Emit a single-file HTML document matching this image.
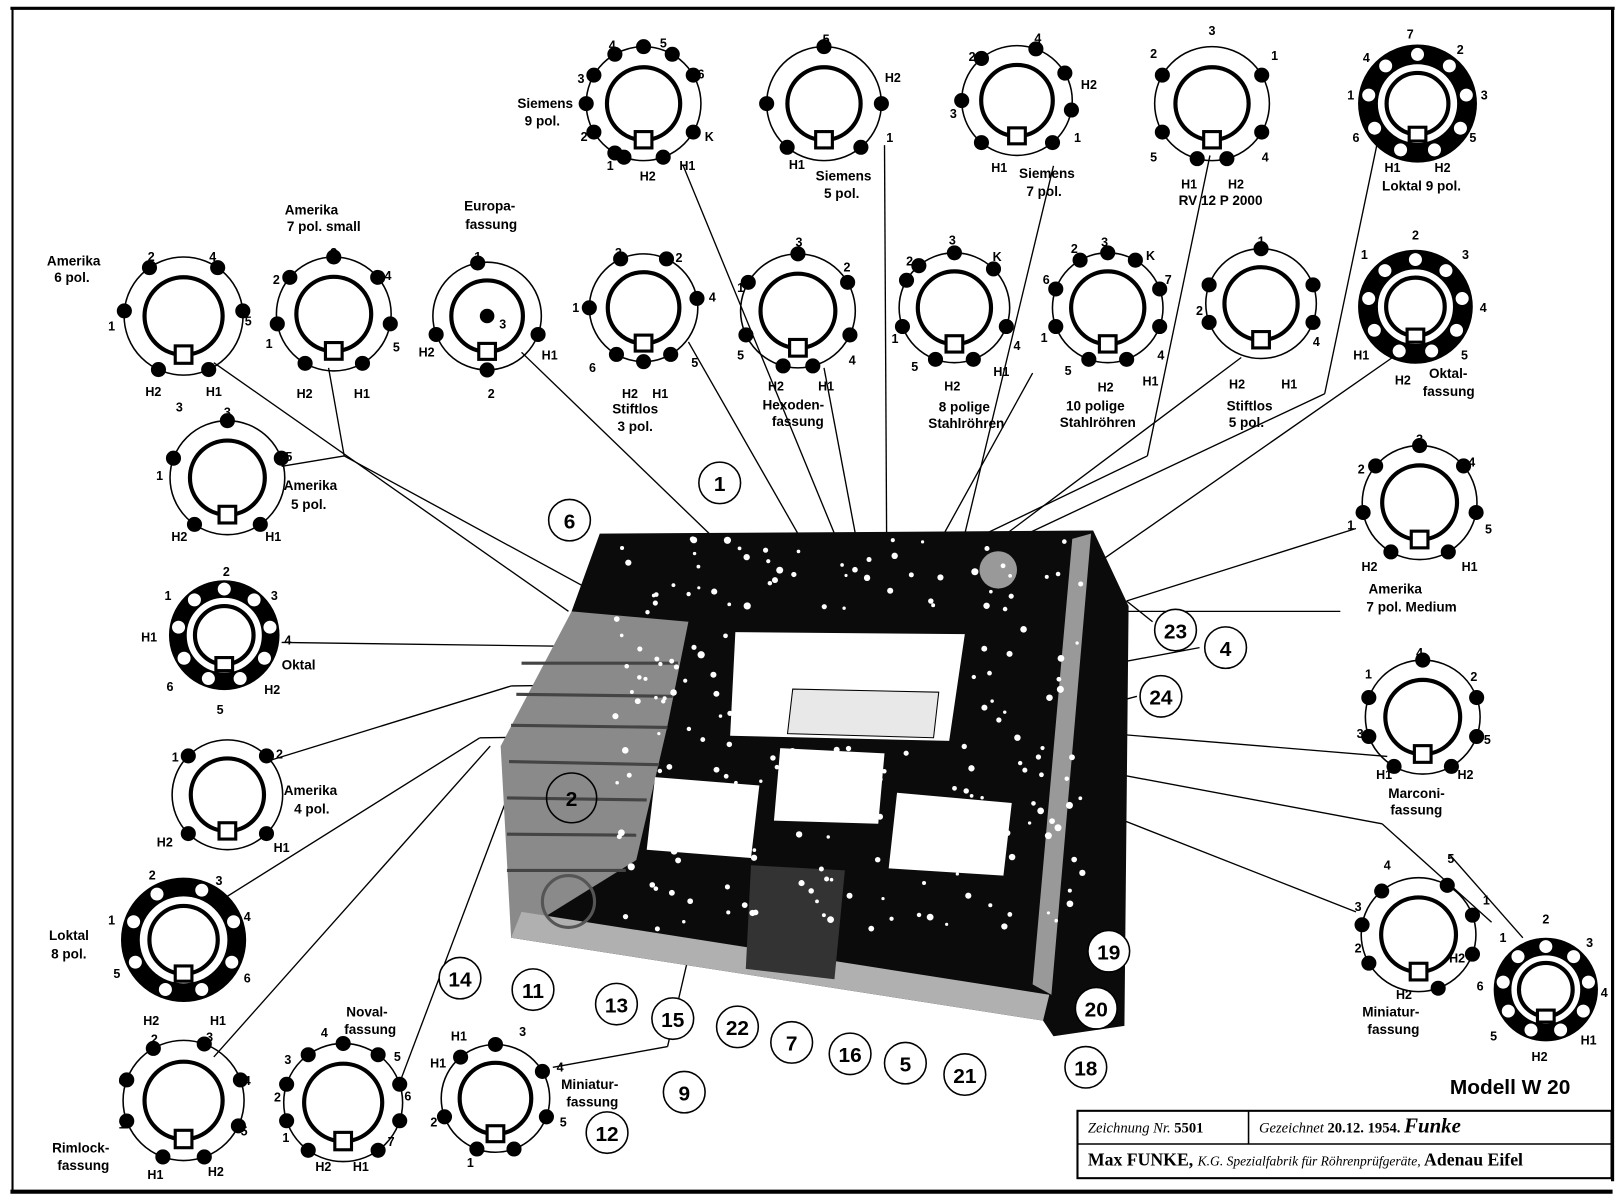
<!DOCTYPE html>
<html><head><meta charset="utf-8"><style>
html,body{margin:0;padding:0;background:#fff;}
svg{display:block;}
text{font-family:"Liberation Sans",sans-serif;font-weight:bold;font-size:13px;fill:#000;}
.n{font-size:20px;font-family:"Liberation Sans",sans-serif;font-weight:bold;text-anchor:middle;}
.p text{font-size:12px;text-anchor:middle;}
</style></head><body>
<svg id="s" width="1623" height="1202" viewBox="0 0 1556 1160" preserveAspectRatio="none" xmlns="http://www.w3.org/2000/svg">
<rect width="1556" height="1160" fill="#fff"/>
<line x1="10" y1="8" x2="1548" y2="8" stroke="#000" stroke-width="3"/>
<line x1="12" y1="8" x2="12" y2="1150" stroke="#000" stroke-width="2"/>
<line x1="1546" y1="8" x2="1546" y2="1140" stroke="#000" stroke-width="3"/>
<line x1="10" y1="1150" x2="1546" y2="1150" stroke="#000" stroke-width="4"/>

<g stroke="#000" stroke-width="1.3" fill="none">
<line x1="205" y1="350" x2="545" y2="590"/>
<line x1="330" y1="440" x2="315" y2="355"/><line x1="330" y1="440" x2="270" y2="450"/><line x1="330" y1="440" x2="640" y2="610"/>
<line x1="500" y1="340" x2="680" y2="515"/>
<line x1="660" y1="330" x2="765" y2="515"/>
<line x1="655" y1="160" x2="800" y2="515"/>
<line x1="790" y1="355" x2="820" y2="515"/>
<line x1="848" y1="140" x2="850" y2="515"/>
<line x1="990" y1="360" x2="905" y2="515"/>
<line x1="1010" y1="160" x2="925" y2="515"/>
<line x1="1160" y1="150" x2="1100" y2="440"/><line x1="1100" y1="440" x2="945" y2="515"/>
<line x1="1190" y1="345" x2="965" y2="515"/>
<line x1="1320" y1="140" x2="1270" y2="380"/><line x1="1270" y1="380" x2="985" y2="515"/>
<line x1="1335" y1="345" x2="1050" y2="545"/>
<line x1="1300" y1="510" x2="1080" y2="580"/>
<line x1="270" y1="620" x2="640" y2="625"/>
<line x1="255" y1="735" x2="490" y2="662"/><line x1="490" y1="662" x2="640" y2="660"/>
<line x1="210" y1="870" x2="460" y2="712"/><line x1="460" y1="712" x2="620" y2="710"/>
<line x1="205" y1="1020" x2="470" y2="720"/>
<line x1="385" y1="1040" x2="520" y2="680"/>
<line x1="530" y1="1030" x2="640" y2="1010"/><line x1="640" y1="1010" x2="670" y2="880"/>
<line x1="1330" y1="730" x2="1065" y2="708"/>
<line x1="1430" y1="890" x2="1325" y2="795"/><line x1="1325" y1="795" x2="1060" y2="745"/>
<line x1="1460" y1="905" x2="1390" y2="825"/>
<line x1="1300" y1="880" x2="1060" y2="785"/>
<line x1="1285" y1="590" x2="1080" y2="590"/>
<line x1="1150" y1="625" x2="1070" y2="640"/>
<line x1="1090" y1="672" x2="1060" y2="680"/>
<line x1="1105" y1="600" x2="1080" y2="580"/>
</g>

<polygon points="575,515 1048,512 1082,585 1078,990 1010,1000 1000,985 490,905 505,850 548,590" fill="#0b0b0b"/>
<polygon points="480,720 548,590 660,600 640,700 610,830 490,905" fill="#8a8a8a"/>
<g stroke="#444" stroke-width="3">
<line x1="500" y1="640" x2="650" y2="640"/><line x1="495" y1="670" x2="645" y2="672"/><line x1="490" y1="700" x2="640" y2="702"/><line x1="488" y1="735" x2="632" y2="738"/><line x1="486" y1="770" x2="620" y2="772"/><line x1="486" y1="805" x2="610" y2="806"/><line x1="486" y1="840" x2="600" y2="840"/>
</g>
<polygon points="490,905 1000,985 1006,960 500,880" fill="#b0b0b0"/>
<polygon points="1028,520 1046,515 1008,960 990,950" fill="#999"/>
<polygon points="705,610 925,612 910,715 700,710" fill="#fff"/>
<polygon points="760,665 900,668 895,712 755,708" fill="#e8e8e8" stroke="#000"/>
<polygon points="628,750 728,758 720,828 620,820" fill="#fff"/>
<polygon points="748,722 848,727 842,795 742,792" fill="#fff"/>
<polygon points="860,765 970,775 962,845 852,838" fill="#fff"/>
<polygon points="720,835 810,840 800,945 715,935" fill="#333"/>
<circle cx="957" cy="550" r="18" fill="#999"/>
<circle cx="545" cy="870" r="25" fill="none" stroke="#555" stroke-width="3"/>
<g id="speck"></g>

<g id="nums" fill="#fff" stroke="#000" stroke-width="1.5"></g>
<g>
<text class="n" x="690" y="474">1</text><text class="n" x="546" y="510">6</text><text class="n" x="1127" y="616">23</text><text class="n" x="1175" y="633">4</text><text class="n" x="1113" y="680">24</text><text class="n" x="1063" y="926">19</text><text class="n" x="1051" y="981">20</text><text class="n" x="1041" y="1038">18</text><text class="n" x="925" y="1045">21</text><text class="n" x="868" y="1034">5</text><text class="n" x="815" y="1025">16</text><text class="n" x="759" y="1014">7</text><text class="n" x="707" y="999">22</text><text class="n" x="645" y="991">15</text><text class="n" x="591" y="977">13</text><text class="n" x="511" y="963">11</text><text class="n" x="441" y="952">14</text><text class="n" x="656" y="1062">9</text><text class="n" x="582" y="1101">12</text><text class="n" x="548" y="778">2</text>
</g>

<g id="sock"></g>

<!-- pin labels -->
<g class="p">
<text x="145" y="252">2</text><text x="204" y="252">4</text><text x="238" y="314">5</text><text x="107" y="319">1</text><text x="147" y="382">H2</text><text x="205" y="382">H1</text>
<text x="320" y="248">3</text><text x="265" y="274">2</text><text x="372" y="270">4</text><text x="258" y="336">1</text><text x="380" y="339">5</text><text x="292" y="384">H2</text><text x="347" y="384">H1</text>
<text x="458" y="252">1</text><text x="409" y="344">H2</text><text x="527" y="347">H1</text><text x="471" y="384">2</text><text x="482" y="317">3</text>
<text x="587" y="48">4</text><text x="636" y="46">5</text><text x="672" y="76">6</text><text x="557" y="80">3</text><text x="560" y="136">2</text><text x="680" y="136">K</text><text x="585" y="164">1</text><text x="621" y="174">H2</text><text x="659" y="164">H1</text>
<text x="792" y="42">5</text><text x="856" y="79">H2</text><text x="733" y="104">2</text><text x="853" y="137">1</text><text x="764" y="163">H1</text>
<text x="932" y="59">2</text><text x="995" y="41">4</text><text x="1044" y="86">H2</text><text x="914" y="114">3</text><text x="1033" y="137">1</text><text x="958" y="166">H1</text>
<text x="1162" y="34">3</text><text x="1106" y="56">2</text><text x="1222" y="58">1</text><text x="1106" y="156">5</text><text x="1213" y="156">4</text><text x="1140" y="182">H1</text><text x="1185" y="182">H2</text>
<text x="1310" y="60">4</text><text x="1352" y="37">7</text><text x="1400" y="52">2</text><text x="1295" y="96">1</text><text x="1423" y="96">3</text><text x="1300" y="137">6</text><text x="1412" y="137">5</text><text x="1335" y="166">H1</text><text x="1383" y="166">H2</text>
<text x="593" y="248">3</text><text x="651" y="253">2</text><text x="552" y="301">1</text><text x="683" y="291">4</text><text x="568" y="359">6</text><text x="666" y="354">5</text><text x="604" y="384">H2</text><text x="633" y="384">H1</text>
<text x="766" y="238">3</text><text x="812" y="262">2</text><text x="710" y="282">1</text><text x="710" y="347">5</text><text x="817" y="352">4</text><text x="744" y="377">H2</text><text x="792" y="377">H1</text>
<text x="913" y="236">3</text><text x="872" y="256">2</text><text x="956" y="252">K</text><text x="858" y="331">1</text><text x="975" y="338">4</text><text x="877" y="358">5</text><text x="960" y="363">H1</text><text x="913" y="377">H2</text>
<text x="1030" y="244">2</text><text x="1059" y="238">3</text><text x="1103" y="251">K</text><text x="1003" y="274">6</text><text x="1120" y="274">7</text><text x="1001" y="330">1</text><text x="1113" y="347">4</text><text x="1024" y="362">5</text><text x="1060" y="378">H2</text><text x="1103" y="372">H1</text>
<text x="1209" y="237">1</text><text x="1150" y="304">2</text><text x="1262" y="334">4</text><text x="1186" y="375">H2</text><text x="1236" y="375">H1</text>
<text x="1357" y="231">2</text><text x="1308" y="250">1</text><text x="1405" y="250">3</text><text x="1422" y="301">4</text><text x="1404" y="347">5</text><text x="1305" y="347">H1</text><text x="1345" y="371">H2</text>
<text x="218" y="402">3</text><text x="172" y="397">3</text><text x="153" y="463">1</text><text x="277" y="445">5</text><text x="172" y="522">H2</text><text x="262" y="522">H1</text>
<text x="217" y="556">2</text><text x="161" y="579">1</text><text x="263" y="579">3</text><text x="143" y="619">H1</text><text x="276" y="622">4</text><text x="163" y="667">6</text><text x="261" y="670">H2</text><text x="211" y="689">5</text>
<text x="168" y="735">1</text><text x="268" y="732">2</text><text x="158" y="817">H2</text><text x="270" y="822">H1</text>
<text x="146" y="849">2</text><text x="210" y="854">3</text><text x="107" y="892">1</text><text x="237" y="889">4</text><text x="112" y="944">5</text><text x="237" y="948">6</text><text x="145" y="989">H2</text><text x="209" y="989">H1</text>
<text x="148" y="1007">2</text><text x="201" y="1005">3</text><text x="117" y="1047">6</text><text x="237" y="1047">4</text><text x="117" y="1089">1</text><text x="234" y="1096">5</text><text x="149" y="1138">H1</text><text x="207" y="1135">H2</text>
<text x="311" y="1001">4</text><text x="381" y="1024">5</text><text x="276" y="1027">3</text><text x="266" y="1063">2</text><text x="391" y="1062">6</text><text x="274" y="1102">1</text><text x="375" y="1106">7</text><text x="310" y="1130">H2</text><text x="346" y="1130">H1</text>
<text x="440" y="1004">H1</text><text x="501" y="1000">3</text><text x="420" y="1030">H1</text><text x="537" y="1034">4</text><text x="416" y="1087">2</text><text x="540" y="1087">5</text><text x="451" y="1126">1</text>
<text x="1361" y="428">3</text><text x="1305" y="457">2</text><text x="1411" y="450">4</text><text x="1295" y="511">1</text><text x="1427" y="515">5</text><text x="1313" y="551">H2</text><text x="1409" y="551">H1</text>
<text x="1361" y="634">4</text><text x="1312" y="655">1</text><text x="1413" y="657">2</text><text x="1304" y="712">3</text><text x="1426" y="718">5</text><text x="1327" y="752">H1</text><text x="1405" y="752">H2</text>
<text x="1330" y="839">4</text><text x="1391" y="833">5</text><text x="1302" y="879">3</text><text x="1425" y="873">1</text><text x="1302" y="919">2</text><text x="1346" y="964">H2</text><text x="1397" y="929">H2</text>
<text x="1482" y="891">2</text><text x="1441" y="909">1</text><text x="1524" y="914">3</text><text x="1419" y="956">6</text><text x="1538" y="962">4</text><text x="1432" y="1004">5</text><text x="1523" y="1008">H1</text><text x="1476" y="1024">H2</text>
</g>

<g>
<text x="45" y="256">Amerika</text><text x="52" y="272">6 pol.</text>
<text x="273" y="207">Amerika</text><text x="275" y="223">7 pol. small</text>
<text x="445" y="203">Europa-</text><text x="446" y="221">fassung</text>
<text x="496" y="104">Siemens</text><text x="503" y="121">9 pol.</text>
<text x="782" y="174">Siemens</text><text x="790" y="191">5 pol.</text>
<text x="977" y="172">Siemens</text><text x="984" y="189">7 pol.</text>
<text x="1130" y="198">RV 12 P 2000</text>
<text x="1325" y="184">Loktal 9 pol.</text>
<text x="587" y="399">Stiftlos</text><text x="592" y="416">3 pol.</text>
<text x="731" y="395">Hexoden-</text><text x="740" y="411">fassung</text>
<text x="900" y="397">8 polige</text><text x="890" y="413">Stahlröhren</text>
<text x="1022" y="396">10 polige</text><text x="1016" y="412">Stahlröhren</text>
<text x="1176" y="396">Stiftlos</text><text x="1178" y="412">5 pol.</text>
<text x="1370" y="365">Oktal-</text><text x="1364" y="382">fassung</text>
<text x="272" y="473">Amerika</text><text x="279" y="491">5 pol.</text>
<text x="270" y="646">Oktal</text>
<text x="272" y="767">Amerika</text><text x="282" y="785">4 pol.</text>
<text x="47" y="907">Loktal</text><text x="49" y="925">8 pol.</text>
<text x="50" y="1112">Rimlock-</text><text x="55" y="1129">fassung</text>
<text x="332" y="981">Noval-</text><text x="330" y="998">fassung</text>
<text x="538" y="1051">Miniatur-</text><text x="543" y="1068">fassung</text>
<text x="1312" y="573">Amerika</text><text x="1310" y="590">7 pol. Medium</text>
<text x="1331" y="770">Marconi-</text><text x="1333" y="786">fassung</text>
<text x="1306" y="981">Miniatur-</text><text x="1311" y="998">fassung</text>
<text x="1390" y="1056" style="font-size:20px">Modell W 20</text>
</g>

<rect x="1033" y="1072" width="512" height="65" fill="#fff" stroke="#000" stroke-width="2"/>
<line x1="1033" y1="1104" x2="1545" y2="1104" stroke="#000" stroke-width="1.5"/>
<line x1="1197" y1="1072" x2="1197" y2="1104" stroke="#000" stroke-width="1.5"/>
<text x="1043" y="1093" style="font-weight:normal;font-style:italic;font-size:14px;font-family:'Liberation Serif',serif">Zeichnung Nr. <tspan style="font-weight:bold;font-style:normal">5501</tspan></text>
<text x="1207" y="1093" style="font-weight:normal;font-style:italic;font-size:14px;font-family:'Liberation Serif',serif">Gezeichnet <tspan style="font-weight:bold;font-style:normal">20.12. 1954.</tspan> <tspan style="font-size:20px;font-weight:bold">Funke</tspan></text>
<text x="1043" y="1125" style="font-size:17px;font-family:'Liberation Serif',serif">Max FUNKE, <tspan style="font-weight:normal;font-style:italic;font-size:13px">K.G. Spezialfabrik für Röhrenprüfgeräte,</tspan> Adenau Eifel</text>
</svg>
<script>
var NS="http://www.w3.org/2000/svg";
function el(p,t,a){var e=document.createElementNS(NS,t);for(var k in a)e.setAttribute(k,a[k]);p.appendChild(e);return e;}
var S=document.getElementById('sock');
function sock(cx,cy,R,r,angs,black,center){
  if(black){el(S,'circle',{cx:cx,cy:cy,r:(R+r)/2,fill:'none',stroke:'#000','stroke-width':R-r});}
  else el(S,'circle',{cx:cx,cy:cy,r:R,fill:'none',stroke:'#000','stroke-width':1.5});
  el(S,'circle',{cx:cx,cy:cy,r:r*0.78,fill:'none',stroke:'#000','stroke-width':4});
  el(S,'rect',{x:cx-8,y:cy+r*0.6,width:16,height:r*0.35,fill:'#fff',stroke:'#000','stroke-width':3});
  angs.forEach(function(a){var t=a*Math.PI/180;var pr=black?(R+r)/2:R;
    el(S,'circle',{cx:cx+pr*Math.sin(t),cy:cy-pr*Math.cos(t),r:black?7:6.5,fill:black?'#fff':'#000',stroke:'#000','stroke-width':1.5});});
  if(center)el(S,'circle',{cx:cx,cy:cy,r:7,fill:'#000'});
}
sock(176,305,57,48,[-35,35,85,155,-155,-85]);
sock(320,303,55,46,[0,50,100,150,-150,-100,-50]);
sock(467,305,52,44,[-10,110,180,-110],false,true);
sock(617,297,52,44,[-25,25,80,150,180,-150,-90]);
sock(765,300,55,46,[0,60,115,165,-165,-115,-60]);
sock(915,297,53,45,[-40,0,45,110,160,-160,-110,-60]);
sock(1062,297,53,45,[-30,0,30,70,110,160,-160,-110,-70]);
sock(1209,293,53,45,[0,110,-110,-70,70]);
sock(1357,296,55,36,[-80,-40,0,40,80,120,160,-160,-120],true);
sock(617,100,55,45,[-150,-120,-90,-60,-30,0,30,60,120,160,-160]);
sock(790,100,55,45,[0,-90,-140,140,90]);
sock(975,97,53,44,[-40,20,60,-90,-140,140,100]);
sock(1162,100,55,45,[-60,60,-120,120,-165,165]);
sock(1359,100,57,38,[-80,-40,0,40,80,120,160,-160,-120],true);
sock(218,461,55,46,[0,70,145,-145,-70]);
sock(215,613,53,36,[-80,-40,0,40,80,120,160,-160,-120],true);
sock(218,767,53,45,[45,135,-135,-45]);
sock(176,907,60,42,[-30,20,70,115,160,-160,-115,-70],true);
sock(176,1062,58,48,[-30,20,70,115,160,-160,-110,-70]);
sock(329,1064,57,48,[-72,-36,0,36,72,108,144,-144,-108]);
sock(475,1060,52,44,[-40,0,60,110,160,-160,-110]);
sock(1361,485,55,46,[0,50,100,150,-150,-100,-50]);
sock(1364,692,55,46,[0,-70,70,-110,110,-150,150]);
sock(1360,902,55,46,[-40,30,70,110,160,-120,-80]);
sock(1482,955,50,33,[-80,-40,0,40,80,120,160,-160,-120],true);
var N=document.getElementById('nums');
[[690,466,20],[546,502,20],[1127,608,20],[1175,625,20],[1113,672,20],[1063,918,20],[1051,973,20],[1041,1030,20],[925,1037,20],[868,1026,20],[815,1017,20],[759,1006,20],[707,991,20],[645,983,20],[591,969,20],[511,955,20],[441,944,20],[656,1054,20],[582,1093,20],[548,770,24]].forEach(function(c){el(N,'circle',{cx:c[0],cy:c[1],r:c[2],fill:c[0]==548?'none':'#fff'});});
var P=document.getElementById('speck');var seed=7;function rnd(){seed=(seed*9301+49297)%233280;return seed/233280;}
for(var i=0;i<260;i++){var x=590+rnd()*450,y=520+rnd()*380;
 if(x>700&&x<930&&y>605&&y<720)continue;
 el(P,'circle',{cx:x,cy:y,r:1.5+rnd()*2,fill:'#fff'});}
</script>
</body></html>
